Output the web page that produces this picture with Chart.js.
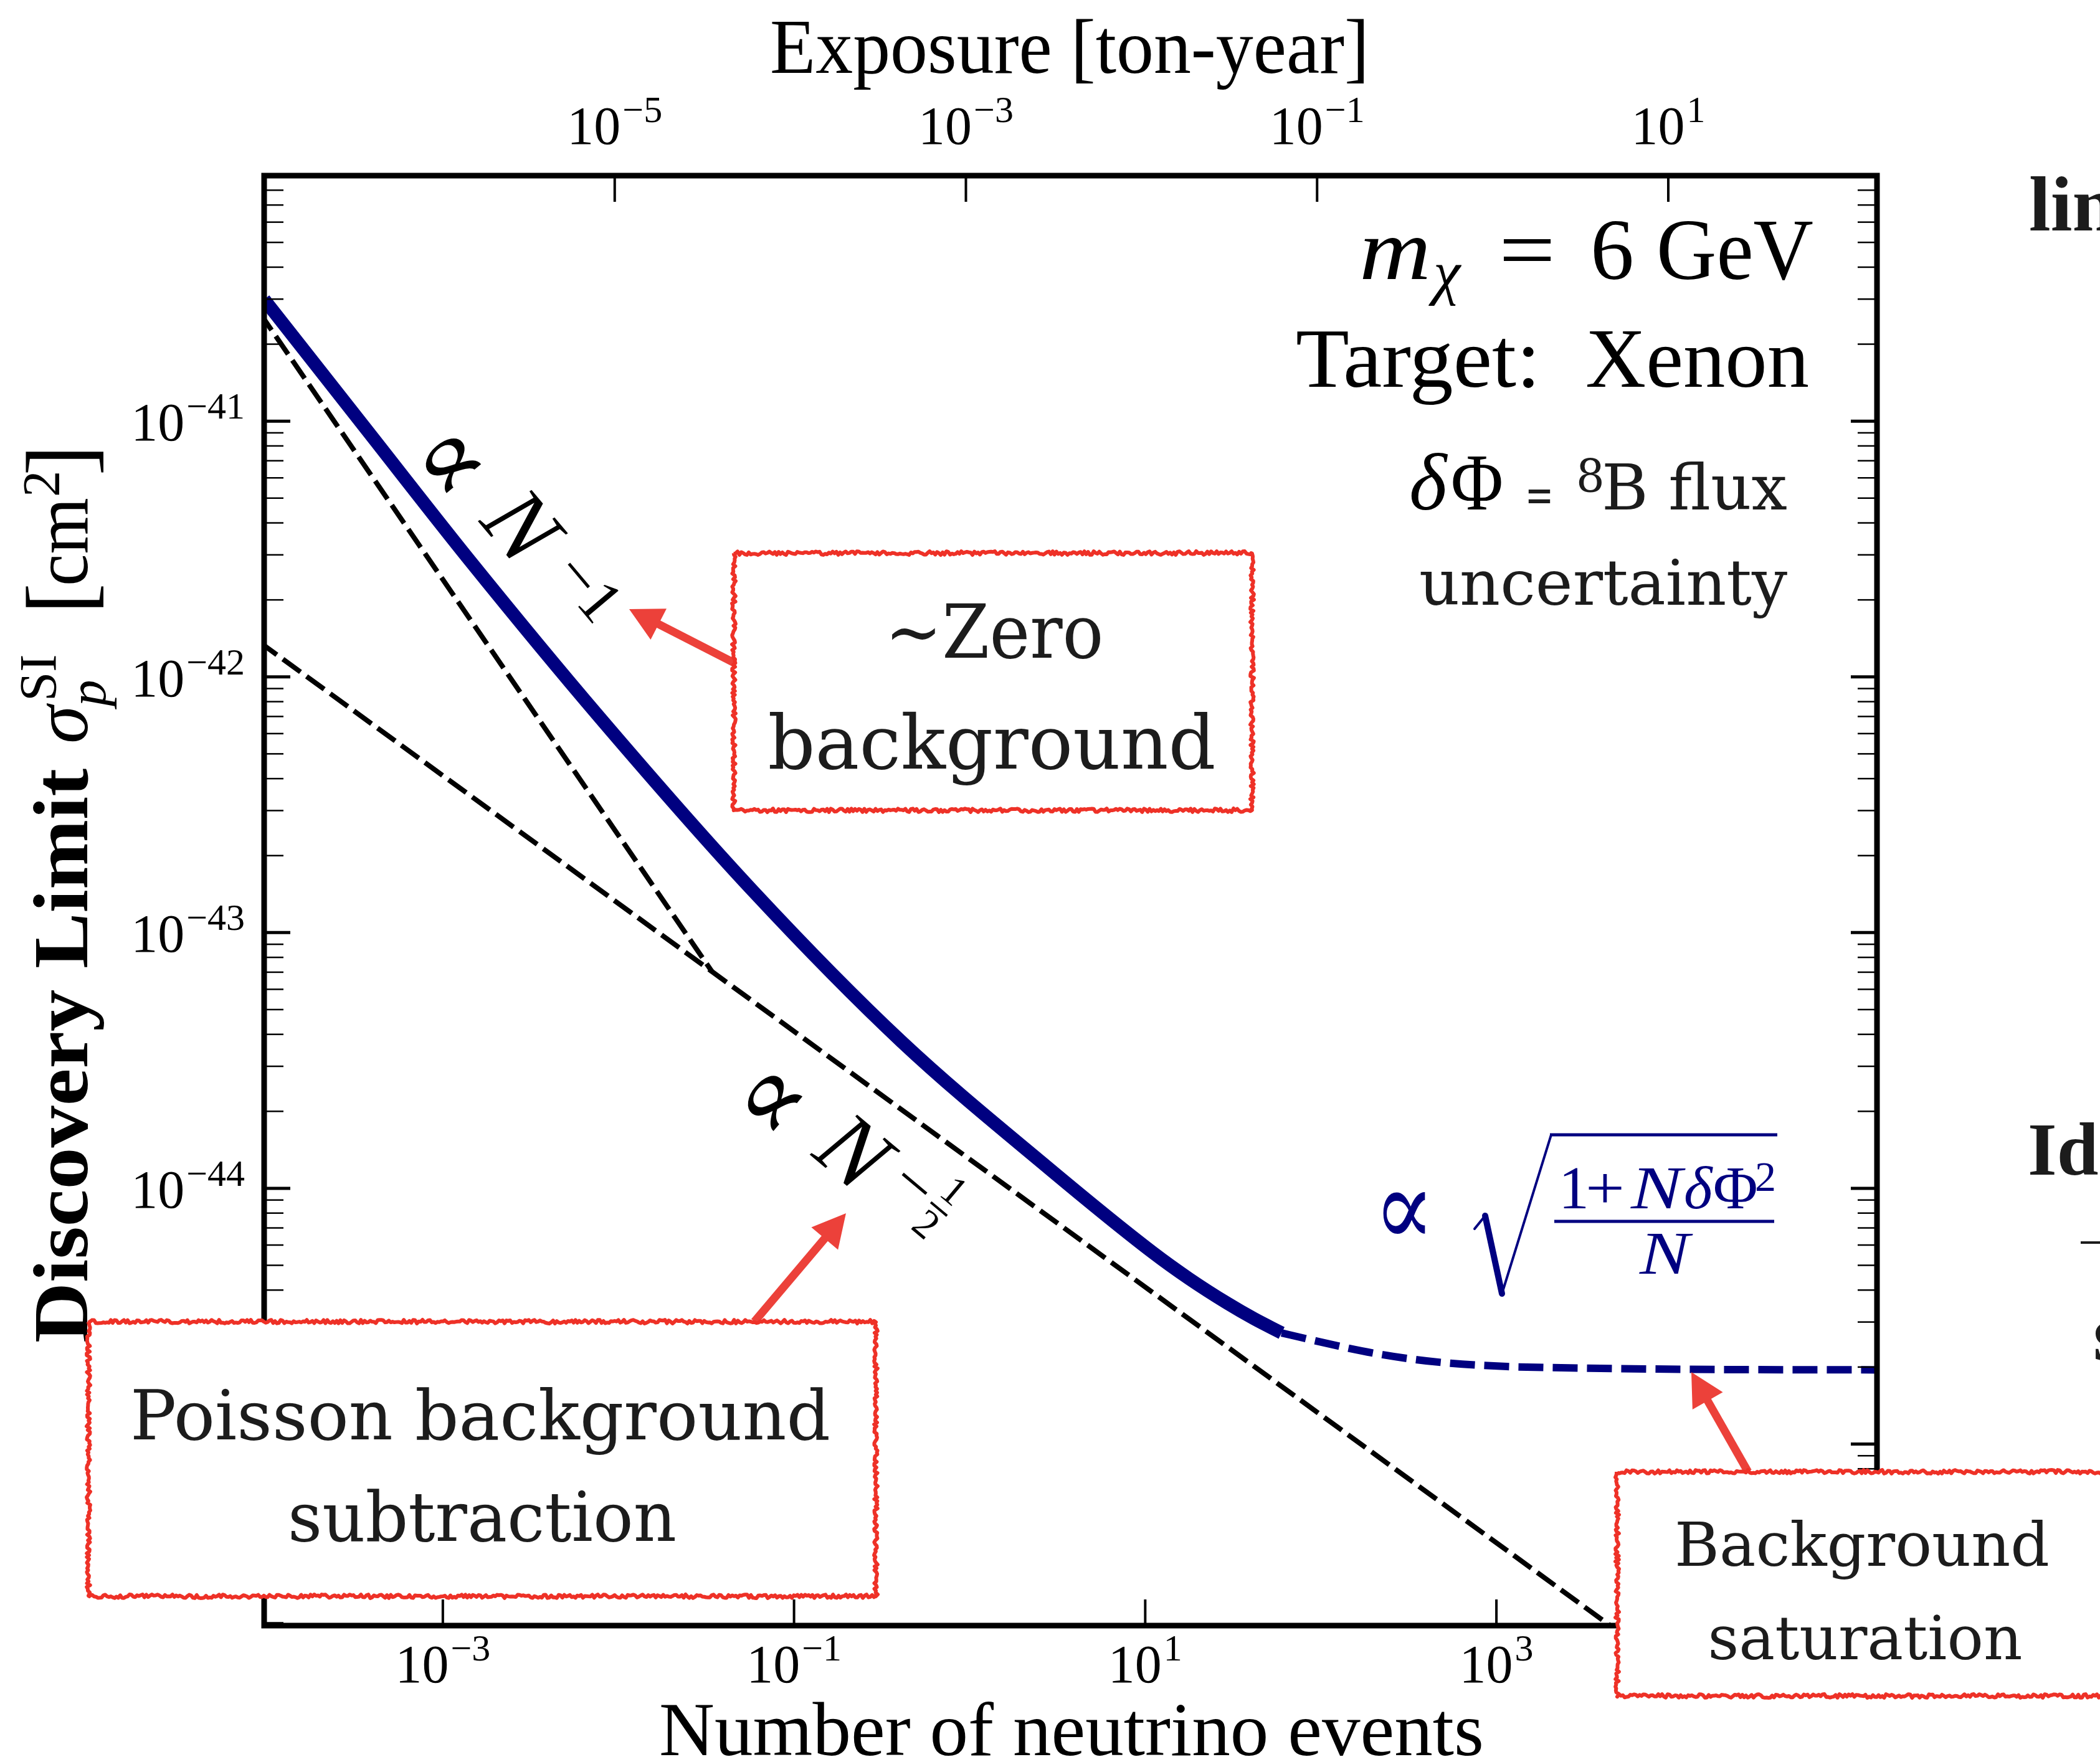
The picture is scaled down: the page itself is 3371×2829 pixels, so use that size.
<!DOCTYPE html>
<html>
<head>
<meta charset="utf-8">
<title>Discovery limit vs. number of neutrino events</title>
<script src="https://cdn.jsdelivr.net/npm/chart.js@4.4.1/dist/chart.umd.min.js"></script>
<style>
  html, body { margin: 0; padding: 0; background: #fff; }
  canvas { display: block; }
</style>
</head>
<body>
<canvas id="limit" width="3371" height="2829"></canvas>
<script>
/* global Chart */

// axis ranges (events on x, cross section in cm^2 on y)
const X_MIN = 9.6e-5;
const X_MAX = 1.47e5;
const Y_MIN = 1.95e-46;
const Y_MAX = 9.12e-41;
const TON_YEAR_PER_EVENT = 1.05e-3;

const xTickExps = [-3, -1, 1, 3, 5];
const topTickExps = [-5, -3, -1, 1];
const yTickExps = [-41, -42, -43, -44, -45];

// discovery limit, statistics dominated part (solid)
const limitEvents = [9.6e-5, 3.63e-4, 1.43e-3, 7.83e-3, 5.75e-2, 0.409, 2.81, 11.0, 17.8, 29.4, 41.7, 59.8];
const limitXsec   = [2.99e-41, 9.37e-42, 2.84e-42, 6.93e-43, 1.47e-43, 3.75e-44, 1.20e-44, 5.62e-45, 4.43e-45, 3.55e-45, 3.09e-45, 2.72e-45];

// discovery limit once the flux uncertainty takes over (dashed)
const satEvents = [59.8, 84.9, 136, 221, 346, 547, 1150, 3360, 11400, 1.47e5];
const satXsec   = [2.72e-45, 2.57e-45, 2.39e-45, 2.24e-45, 2.14e-45, 2.07e-45, 2.01e-45, 1.98e-45, 1.96e-45, 1.95e-45];

// reference scalings
const zeroBgEvents  = [9.0e-5, 0.0342];
const zeroBgXsec    = [2.67e-41, 7.02e-44];
const poissonEvents = [9.0e-5, 1.0e4];
const poissonXsec   = [1.37e-42, 1.30e-46];

const SERIF = '"Liberation Serif", "DejaVu Serif", serif';
const BOOK = '"DejaVu Serif", "Liberation Serif", serif';
const NAVY = '#000080';
const BOX_RED = '#ee3127';
const ARROW_RED = '#ec413a';
const INK = '#1c1c1c';

function pts(xs, ys) {
  return xs.map((x, i) => ({ x, y: ys[i] }));
}

// text helper: optional squeeze/stretch to a target width
function put(ctx, text, x, y, size, o = {}) {
  ctx.save();
  ctx.font = `${o.style || 'normal'} ${o.weight || 'normal'} ${size}px ${o.family || SERIF}`;
  ctx.fillStyle = o.color || '#000';
  ctx.textAlign = o.align || 'left';
  ctx.textBaseline = o.baseline || 'alphabetic';
  ctx.translate(x, y);
  if (o.width) ctx.scale(o.width / ctx.measureText(text).width, 1);
  ctx.fillText(text, 0, 0);
  ctx.restore();
}

function textWidth(ctx, text, size, family) {
  ctx.save();
  ctx.font = `${size}px ${family || SERIF}`;
  const w = ctx.measureText(text).width;
  ctx.restore();
  return w;
}

function seg(ctx, x0, y0, x1, y1, w) {
  ctx.lineWidth = w;
  ctx.beginPath();
  ctx.moveTo(x0, y0);
  ctx.lineTo(x1, y1);
  ctx.stroke();
}

// "10^e" tick label; anchor 'center' or 'right'
function powLabel(ctx, e, x, y, anchor) {
  const base = '10', sup = (e < 0 ? '\u2212' : '') + Math.abs(e);
  const wb = textWidth(ctx, base, 86), ws = textWidth(ctx, sup, 60);
  const total = wb + ws + 3;
  const x0 = anchor === 'right' ? x - total : x - total / 2;
  put(ctx, base, x0, y, 86);
  put(ctx, sup, x0 + wb + 3, y - 35, 60);
}

// pseudo noise for the hand-drawn box outline
function jitter(n) {
  const s = Math.sin(n * 127.1 + 11.7) * 43758.5453;
  return s - Math.floor(s) - 0.5;
}

function roughBox(ctx, x0, y0, x1, y1, seed) {
  ctx.save();
  ctx.fillStyle = '#fff';
  ctx.fillRect(x0, y0, x1 - x0, y1 - y0);
  ctx.strokeStyle = BOX_RED;
  ctx.lineWidth = 6;
  ctx.lineJoin = 'round';
  const c = [[x0, y0], [x1, y0], [x1, y1], [x0, y1], [x0, y0]];
  let k = seed;
  ctx.beginPath();
  for (let e = 0; e < 4; e++) {
    const [ax, ay] = c[e], [bx, by] = c[e + 1];
    const len = Math.hypot(bx - ax, by - ay);
    const n = Math.ceil(len / 3);
    const nx = -(by - ay) / len, ny = (bx - ax) / len;
    for (let i = 0; i <= n; i++) {
      const t = i / n, j = jitter(k++) * 6;
      const px = ax + (bx - ax) * t + nx * j, py = ay + (by - ay) * t + ny * j;
      if (e === 0 && i === 0) ctx.moveTo(px, py); else ctx.lineTo(px, py);
    }
  }
  ctx.stroke();
  ctx.restore();
}

function arrow(ctx, x0, y0, x1, y1) {
  const a = Math.atan2(y1 - y0, x1 - x0);
  const headLen = 53, headW = 56;
  ctx.save();
  ctx.strokeStyle = ARROW_RED;
  ctx.fillStyle = ARROW_RED;
  seg(ctx, x0, y0, x1 - Math.cos(a) * (headLen - 4), y1 - Math.sin(a) * (headLen - 4), 13);
  ctx.translate(x1, y1);
  ctx.rotate(a);
  ctx.beginPath();
  ctx.moveTo(0, 0);
  ctx.lineTo(-headLen, -headW / 2);
  ctx.lineTo(-headLen, headW / 2);
  ctx.closePath();
  ctx.fill();
  ctx.restore();
}

const frame = {
  id: 'frame',
  beforeDraw(chart) {
    const c = chart.ctx;
    c.save();
    c.fillStyle = '#fff';
    c.fillRect(0, 0, chart.width, chart.height);
    c.restore();
  },
  afterDraw(chart) {
    const ctx = chart.ctx;
    const { left, right, top, bottom } = chart.chartArea;
    const sx = chart.scales.x, sy = chart.scales.y, st = chart.scales.xTop;
    ctx.save();
    ctx.strokeStyle = '#000';
    ctx.lineCap = 'butt';

    // y ticks on both sides, pointing in
    for (let e = -46; e <= -41; e++) {
      for (let m = 1; m <= 9; m++) {
        const v = m * Math.pow(10, e);
        if (v < Y_MIN || v > Y_MAX) continue;
        const py = sy.getPixelForValue(v);
        const len = m === 1 ? 42 : 31, w = m === 1 ? 5 : 2.5;
        seg(ctx, left, py, left + len, py, w);
        seg(ctx, right, py, right - len, py, w);
      }
    }
    // bottom and top: major ticks only
    for (const e of xTickExps) {
      const px = sx.getPixelForValue(Math.pow(10, e));
      seg(ctx, px, bottom, px, bottom - 42, 4);
    }
    for (const e of topTickExps) {
      const px = st.getPixelForValue(Math.pow(10, e));
      seg(ctx, px, top, px, top + 42, 4);
    }

    // spines
    ctx.lineWidth = 9;
    ctx.lineJoin = 'miter';
    ctx.strokeRect(left, top, right - left, bottom - top);

    // tick labels
    for (const e of yTickExps) powLabel(ctx, e, left - 31, sy.getPixelForValue(Math.pow(10, e)) + 31, 'right');
    for (const e of xTickExps) powLabel(ctx, e, sx.getPixelForValue(Math.pow(10, e)), bottom + 91, 'center');
    for (const e of topTickExps) powLabel(ctx, e, st.getPixelForValue(Math.pow(10, e)), top - 51, 'center');

    // axis titles
    put(ctx, 'Exposure [ton-year]', 1717, 117, 124, { align: 'center', width: 962 });
    put(ctx, 'Number of neutrino events', 1720, 2818, 122, { align: 'center', width: 1324 });

    ctx.save();
    ctx.translate(140, 2156);
    ctx.rotate(-Math.PI / 2);
    put(ctx, 'Discovery Limit', 0, 0, 125, { weight: 'bold', width: 922 });
    put(ctx, '\u03c3', 962, 0, 124, { style: 'italic' });
    put(ctx, 'p', 1022, 29, 85, { style: 'italic' });
    put(ctx, 'SI', 1030, -50, 85);
    put(ctx, '[', 1170, 6, 150);
    put(ctx, 'cm', 1215, 0, 124, { width: 142 });
    put(ctx, '2', 1358, -45, 85);
    put(ctx, ']', 1392, 6, 150);
    ctx.restore();

    // benchmark text, top right
    put(ctx, 'm', 2182, 448, 140, { style: 'italic', width: 115 });
    put(ctx, '\u03c7', 2301, 470, 98, { style: 'italic' });
    put(ctx, '=', 2406, 448, 140, { width: 91 });
    put(ctx, '6', 2553, 448, 140);
    put(ctx, 'GeV', 2659, 448, 140, { width: 252 });
    put(ctx, 'Target:', 2080, 621, 136, { width: 393 });
    put(ctx, 'Xenon', 2545, 621, 136, { width: 359 });

    put(ctx, '\u03b4', 2262, 818, 130, { style: 'italic' });
    put(ctx, '\u03a6', 2329, 818, 130, { width: 84 });
    put(ctx, '=', 2448, 822, 78, { family: BOOK, width: 46, color: INK });
    put(ctx, '8', 2530, 790, 72, { family: BOOK, color: INK });
    put(ctx, 'B flux', 2571, 818, 101, { family: BOOK, width: 298, color: INK });
    put(ctx, 'uncertainty', 2869, 971, 101, { family: BOOK, align: 'right', width: 591, color: INK });

    // scaling labels along the curves
    const mid = { align: 'center', baseline: 'middle' };
    ctx.save();
    ctx.translate(717, 747);
    ctx.rotate(50 * Math.PI / 180);
    put(ctx, '\u221d', 0, 0, 190, { ...mid, width: 100 });
    put(ctx, 'N', 152, -20, 150, { ...mid, style: 'italic' });
    put(ctx, '\u2212', 272, -42, 100, { ...mid, width: 60 });
    put(ctx, '1', 326, -42, 100, mid);
    ctx.restore();

    ctx.save();
    ctx.translate(1234, 1772);
    ctx.rotate(40 * Math.PI / 180);
    put(ctx, '\u221d', 0, 0, 190, { ...mid, width: 100 });
    put(ctx, 'N', 154, -19, 150, { ...mid, style: 'italic' });
    put(ctx, '\u2212', 262, -45, 100, { ...mid, width: 60 });
    put(ctx, '1', 318, -80, 66, mid);
    ctx.fillStyle = '#000';
    ctx.fillRect(301, -48, 34, 4);
    put(ctx, '2', 318, -10, 66, mid);
    ctx.restore();

    // saturation scaling, navy
    put(ctx, '\u221d', 2205, 2000, 175, { color: NAVY, width: 98 });
    ctx.strokeStyle = NAVY;
    ctx.lineCap = 'round';
    seg(ctx, 2367, 1973, 2384, 1952, 4);
    seg(ctx, 2384, 1952, 2411, 2077, 10);
    seg(ctx, 2411, 2077, 2490, 1822, 4);
    ctx.lineCap = 'butt';
    seg(ctx, 2488, 1822, 2853, 1822, 5);
    put(ctx, '1', 2502, 1940, 98, { color: NAVY });
    put(ctx, '+', 2545, 1940, 98, { color: NAVY, width: 63 });
    put(ctx, 'N', 2618, 1940, 98, { color: NAVY, style: 'italic', width: 82 });
    put(ctx, '\u03b4', 2703, 1940, 98, { color: NAVY, style: 'italic' });
    put(ctx, '\u03a6', 2750, 1940, 98, { color: NAVY });
    put(ctx, '2', 2817, 1912, 68, { color: NAVY });
    ctx.fillStyle = NAVY;
    ctx.fillRect(2495, 1958.5, 353, 5);
    put(ctx, 'N', 2632, 2045, 98, { color: NAVY, style: 'italic', width: 80 });

    // callouts
    arrow(ctx, 1180, 1065, 1010, 978);
    arrow(ctx, 1211, 2122, 1358, 1948);
    arrow(ctx, 2806, 2363, 2715, 2203);

    roughBox(ctx, 1178, 888, 2010, 1301, 1);
    put(ctx, '~Zero', 1596, 1056, 119, { family: BOOK, align: 'center', width: 351, color: INK });
    put(ctx, 'background', 1592, 1234, 119, { family: BOOK, align: 'center', width: 719, color: INK });

    roughBox(ctx, 142, 2122, 1406, 2563, 500);
    put(ctx, 'Poisson background', 771, 2311, 110, { family: BOOK, align: 'center', width: 1124, color: INK });
    put(ctx, 'subtraction', 774, 2474, 110, { family: BOOK, align: 'center', width: 624, color: INK });

    roughBox(ctx, 2596, 2363, 3420, 2723, 1200);
    put(ctx, 'Background', 2989, 2514, 98, { family: BOOK, align: 'center', width: 602, color: INK });
    put(ctx, 'saturation', 2994, 2664, 98, { family: BOOK, align: 'center', width: 505, color: INK });

    // neighbouring panel text running in from the right edge
    put(ctx, 'lin', 3257, 370, 125, { weight: 'bold', color: INK });
    put(ctx, 'Ide', 3255, 1886, 120, { weight: 'bold', color: INK });
    ctx.strokeStyle = INK;
    seg(ctx, 3340, 1995, 3371, 1995, 4);
    put(ctx, 's', 3360, 2184, 130, { weight: 'bold', color: INK });

    ctx.restore();
  }
};

new Chart(document.getElementById('limit'), {
  type: 'line',
  data: {
    datasets: [
      {
        data: pts(limitEvents, limitXsec),
        borderColor: NAVY,
        borderWidth: 21,
        cubicInterpolationMode: 'monotone',
        pointRadius: 0,
        clip: 0
      },
      {
        data: pts(satEvents, satXsec),
        borderColor: NAVY,
        borderWidth: 12,
        borderDash: [40, 15],
        cubicInterpolationMode: 'monotone',
        pointRadius: 0,
        clip: 0
      },
      {
        data: pts(zeroBgEvents, zeroBgXsec),
        borderColor: '#000',
        borderWidth: 8,
        borderDash: [35, 12],
        pointRadius: 0,
        clip: 0
      },
      {
        data: pts(poissonEvents, poissonXsec),
        borderColor: '#000',
        borderWidth: 8,
        borderDash: [35, 12],
        pointRadius: 0,
        clip: 0
      }
    ]
  },
  options: {
    responsive: false,
    animation: false,
    devicePixelRatio: 1,
    events: [],
    layout: { padding: { left: 424, right: 358, top: 282, bottom: 219 } },
    plugins: { legend: { display: false }, tooltip: { enabled: false } },
    scales: {
      x: { type: 'logarithmic', min: X_MIN, max: X_MAX, display: false },
      y: { type: 'logarithmic', min: Y_MIN, max: Y_MAX, display: false },
      xTop: {
        type: 'logarithmic',
        position: 'top',
        min: X_MIN * TON_YEAR_PER_EVENT,
        max: X_MAX * TON_YEAR_PER_EVENT,
        display: false
      }
    }
  },
  plugins: [frame]
});
</script>
</body>
</html>
